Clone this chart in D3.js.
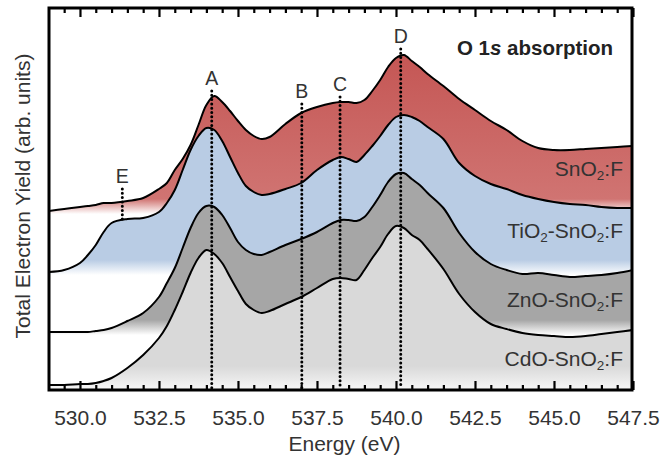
<!DOCTYPE html>
<html>
<head>
<meta charset="utf-8">
<script src="https://cdn.jsdelivr.net/npm/d3@7"></script>
<style>
body { margin: 0; background: #fff; }
text { font-family: "Liberation Sans", Arial, Helvetica, sans-serif; }
</style>
</head>
<body>
<script>
//energies (eV) shared by every spectrum
const energy = [529.0, 529.5, 530.0, 530.25, 530.5, 530.75, 531.0, 531.5, 532.0, 532.5,
    532.75, 533.0, 533.25, 533.5, 533.75, 534.0, 534.25, 534.5, 534.75, 535.0,
    535.25, 535.5, 535.75, 536.0, 536.5, 537.0, 537.5, 538.0, 538.25, 538.5,
    538.75, 539.0, 539.25, 539.5, 539.75, 540.0, 540.25, 540.5, 540.75, 541.0,
    541.5, 542.0, 542.5, 543.0, 543.5, 544.0, 544.5, 545.0, 545.5, 546.0,
    546.5, 547.0, 547.5];
//total electron yield, stacked (arb. units)
const sno2 = [18.0, 18.2, 18.4, 18.5, 18.6, 18.8, 18.8, 19.0, 19.3, 20.2,
    20.8, 22.1, 23.2, 24.6, 26.6, 28.6, 29.5, 28.9, 28.0, 27.0,
    26.1, 25.5, 25.2, 25.4, 26.7, 27.8, 28.4, 28.8, 28.9, 28.9,
    28.8, 29.1, 30.0, 31.1, 32.4, 33.3, 33.6, 33.0, 32.4, 31.7,
    30.5, 29.2, 28.1, 27.0, 26.1, 25.0, 24.3, 24.1, 24.1, 24.2,
    24.3, 24.4, 24.5];
const tio2 = [11.9, 12.1, 12.8, 13.6, 14.6, 15.9, 16.8, 17.2, 17.3, 17.9,
    18.8, 20.1, 22.1, 24.1, 25.5, 26.3, 26.1, 25.0, 23.4, 21.8,
    20.5, 19.9, 19.6, 19.7, 20.2, 20.8, 22.1, 23.1, 23.4, 23.2,
    22.9, 23.6, 24.5, 25.5, 26.6, 27.4, 27.6, 27.4, 27.0, 26.4,
    25.2, 22.8, 21.5, 20.7, 20.2, 19.6, 19.2, 18.9, 18.7, 18.6,
    18.4, 18.3, 18.3];
const zno = [5.9, 5.9, 5.9, 5.9, 6.0, 6.1, 6.3, 7.0, 7.8, 9.4,
    10.8, 12.3, 14.3, 16.3, 17.8, 18.5, 18.4, 17.6, 16.3, 14.9,
    14.1, 13.7, 13.6, 13.9, 14.6, 15.2, 15.9, 16.8, 17.1, 17.1,
    17.0, 17.4, 18.4, 19.6, 20.9, 21.7, 21.8, 21.2, 20.6, 19.8,
    18.3, 15.8, 13.9, 12.7, 12.1, 11.7, 11.8, 11.6, 11.4, 11.5,
    11.6, 11.8, 12.1];
const cdo = [0.6, 0.6, 0.7, 0.7, 0.8, 1.0, 1.3, 2.3, 3.6, 5.3,
    6.5, 8.1, 9.9, 11.8, 13.3, 14.1, 13.7, 12.8, 11.4, 10.0,
    8.7, 8.1, 7.8, 8.0, 8.7, 9.4, 10.3, 11.2, 11.3, 11.2,
    11.1, 12.1, 13.3, 14.4, 15.7, 16.5, 16.3, 15.6, 15.1, 14.2,
    12.2, 9.7, 7.9, 6.7, 6.2, 5.8, 5.6, 5.5, 5.4, 5.5,
    5.7, 5.9, 6.1];
const seriesNames = ["SnO_2:F", "TiO_2-SnO_2:F", "ZnO-SnO_2:F", "CdO-SnO_2:F"];
const seriesColors = ["#c45553", "#b9cce4", "#a6a6a6", "#d9d9d9"];
//feature markers
const markerNames = ["A", "B", "C", "D", "E"];
const markerEnergy = [534.17, 537.02, 538.23, 540.15, 531.34];
const majorTicks = [530, 532.5, 535, 537.5, 540, 542.5, 545, 547.5];

let width = 663, height = 459;
let plotLeft = 49, plotRight = 632, plotTop = 8, plotBottom = 390;
let fontSize = "21px";

let svg = d3.select("body").append("svg")
    .attr("width", width)
    .attr("height", height);

let xScale = d3.scaleLinear().domain([529.02, 547.5]).range([plotLeft, 633]);
let yScale = d3.scaleLinear().domain([0, 38.3]).range([391, 8]);

let spectra = [sno2, tio2, zno, cdo].map(function (vals) {
    return vals.map(function (v, i) { return { e: energy[i], v: v }; });
});

let defs = svg.append("defs");
defs.append("clipPath").attr("id", "plot-clip")
    .append("rect")
    .attr("x", plotLeft).attr("y", plotTop)
    .attr("width", plotRight - plotLeft).attr("height", plotBottom - plotTop);

//each fill fades to white a little under the spectrum's starting level
spectra.forEach(function (d, i) {
    let baseY = yScale(d[0].v);
    let g = defs.append("linearGradient")
        .attr("id", "fade" + i)
        .attr("gradientUnits", "userSpaceOnUse")
        .attr("x1", 0).attr("x2", 0)
        .attr("y1", plotTop).attr("y2", plotBottom);
    let pos = function (y) { return (y - plotTop) / (plotBottom - plotTop); };
    let col = seriesColors[i];
    let col2 = i === 0 ? "#d07472" : col;
    let fadeTop = i === 3 ? 366 : baseY - 12;
    let fadeEnd = i === 3 ? 388 : baseY + 3;
    let endCol = i === 3 ? "#f4f4f4" : "#ffffff";
    g.append("stop").attr("offset", pos(plotTop + 40)).attr("stop-color", col);
    g.append("stop").attr("offset", pos(fadeTop)).attr("stop-color", col2);
    g.append("stop").attr("offset", pos(fadeEnd)).attr("stop-color", endCol);
});

let curve = d3.curveCatmullRom.alpha(0.5);
let area = d3.area()
    .x(function (d) { return xScale(d.e); })
    .y0(plotBottom)
    .y1(function (d) { return yScale(d.v); })
    .curve(curve);
let line = d3.line()
    .x(function (d) { return xScale(d.e); })
    .y(function (d) { return yScale(d.v); })
    .curve(curve);

let plot = svg.append("g").attr("clip-path", "url(#plot-clip)");
spectra.forEach(function (d, i) {
    plot.append("path")
        .datum(d)
        .attr("d", area)
        .style("fill", "url(#fade" + i + ")");
});
spectra.forEach(function (d) {
    plot.append("path")
        .datum(d)
        .attr("d", line)
        .style("fill", "none")
        .style("stroke", "#000")
        .style("stroke-width", 2)
        .style("stroke-linejoin", "round");
});

//height of each marker letter above its dotted line (px)
let markerTop = [85, 98, 91, 43, 183];
//value of the blue spectrum at a given energy, E's line stops there
function tioAt(e) {
    let i = d3.bisectLeft(energy, e);
    let t = (e - energy[i - 1]) / (energy[i] - energy[i - 1]);
    return tio2[i - 1] + t * (tio2[i] - tio2[i - 1]);
}
markerNames.forEach(function (name, i) {
    let x = xScale(markerEnergy[i]);
    let y2 = name === "E" ? yScale(tioAt(markerEnergy[i])) : plotBottom - 2;
    svg.append("line")
        .attr("x1", x).attr("x2", x)
        .attr("y1", markerTop[i] + 6)
        .attr("y2", y2)
        .style("stroke", "#000")
        .style("stroke-width", 3)
        .style("stroke-linecap", "round")
        .attr("stroke-dasharray", "0,4.3");
    svg.append("text")
        .attr("x", x)
        .attr("y", markerTop[i])
        .attr("text-anchor", "middle")
        .style("font-size", "19.5px")
        .style("fill", "#333")
        .text(name);
});

//series labels with subscripts ("_2" -> lowered small 2)
let labelY = [176, 237.5, 306.5, 365.5];
seriesNames.forEach(function (name, i) {
    let t = svg.append("text")
        .attr("x", 623)
        .attr("y", labelY[i])
        .attr("text-anchor", "end")
        .style("font-size", fontSize)
        .style("fill", "#333");
    let shift = 0;
    name.split(/(_\d)/).forEach(function (part) {
        if (part === "") return;
        if (part[0] === "_") {
            t.append("tspan").attr("dy", 4 - shift).style("font-size", "13.5px").text(part.slice(1));
            shift = 4;
        } else {
            t.append("tspan").attr("dy", -shift).text(part);
            shift = 0;
        }
    });
});

//title
let title = svg.append("text")
    .attr("x", 613)
    .attr("y", 55)
    .attr("text-anchor", "end")
    .style("font-size", "20.5px")
    .style("font-weight", "bold")
    .style("fill", "#222");
title.append("tspan").text("O 1");
title.append("tspan").attr("font-style", "italic").style("font-style", "italic").text("s");
title.append("tspan").text(" absorption");

//axes: inward ticks top and bottom, minor every 0.5 eV
let minorTicks = d3.range(529.5, 547.5, 0.5).filter(function (e) {
    return majorTicks.indexOf(e) < 0;
});
let axisB = d3.axisBottom(xScale).tickValues(majorTicks).tickSize(-9).tickSizeOuter(0)
    .tickPadding(20).tickFormat(d3.format(".1f"));
let axisBm = d3.axisBottom(xScale).tickValues(minorTicks).tickSize(-5).tickSizeOuter(0).tickFormat("");
let axisT = d3.axisTop(xScale).tickValues(majorTicks).tickSize(-9).tickSizeOuter(0).tickFormat("");
let axisTm = d3.axisTop(xScale).tickValues(minorTicks).tickSize(-5).tickSizeOuter(0).tickFormat("");

[[axisB, plotBottom], [axisBm, plotBottom], [axisT, plotTop], [axisTm, plotTop]].forEach(function (a) {
    let g = svg.append("g")
        .attr("transform", "translate(0," + a[1] + ")")
        .call(a[0]);
    g.select(".domain").remove();
    g.selectAll("line").style("stroke", "#000").style("stroke-width", 2.2);
    g.selectAll("text")
        .style("font-size", fontSize)
        .style("fill", "#333");
});

//frame
svg.append("path")
    .attr("d", "M" + plotLeft + "," + plotTop + "H" + plotRight + "V" + plotBottom + "H" + plotLeft + "Z")
    .style("fill", "none")
    .style("stroke", "#000")
    .style("stroke-width", 3);

svg.append("text")
    .attr("x", (plotLeft + plotRight) / 2 + 4)
    .attr("y", 451)
    .attr("text-anchor", "middle")
    .style("font-size", fontSize)
    .style("fill", "#333")
    .text("Energy (eV)");

svg.append("text")
    .attr("transform", "translate(30," + 196 + ") rotate(-90)")
    .attr("text-anchor", "middle")
    .style("font-size", fontSize)
    .style("fill", "#333")
    .text("Total Electron Yield (arb. units)");
</script>
</body>
</html>
